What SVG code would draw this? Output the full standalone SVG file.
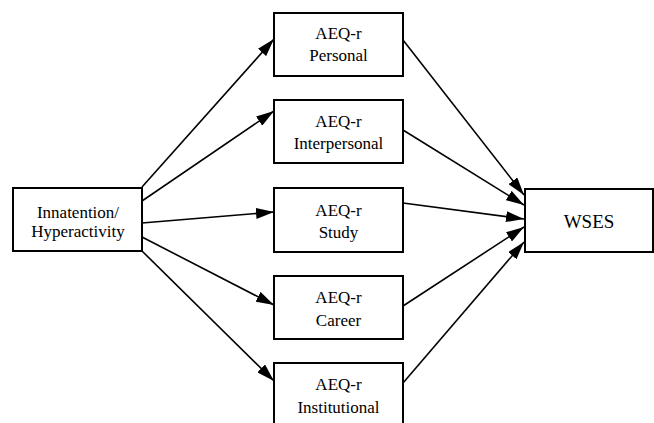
<svg xmlns="http://www.w3.org/2000/svg" width="654" height="423" viewBox="0 0 654 423">
<style>
.box{fill:#fff;stroke:#000;stroke-width:2}
.t{font-family:"Liberation Serif","Times New Roman",serif;font-size:17px;fill:#000;text-anchor:middle}
.big{font-size:19px}
.c{stroke:#000;stroke-width:1.6;fill:none;marker-end:url(#ah)}
</style>
<defs>
<marker id="ah" markerUnits="userSpaceOnUse" markerWidth="18" markerHeight="11" refX="18" refY="5.5" orient="auto">
<path d="M0,0 L18,5.5 L0,11 z" fill="#000"/>
</marker>
</defs>
<rect width="654" height="423" fill="#fff"/>
<g id="connectors">
<line class="c" x1="142" y1="187" x2="274" y2="39"/>
<line class="c" x1="142" y1="201" x2="274" y2="111"/>
<line class="c" x1="142" y1="223" x2="274" y2="212"/>
<line class="c" x1="142" y1="237" x2="274" y2="305"/>
<line class="c" x1="142" y1="251" x2="274" y2="381"/>
<line class="c" x1="403" y1="40" x2="524" y2="195"/>
<line class="c" x1="403" y1="130" x2="524" y2="205"/>
<line class="c" x1="403" y1="203" x2="524" y2="219"/>
<line class="c" x1="403" y1="306" x2="524" y2="227"/>
<line class="c" x1="403" y1="383" x2="524" y2="242"/>
</g>
<g id="inattention">
<rect class="box" x="13" y="188" width="129" height="63"/>
<text class="t" x="78" y="218">Innatention/</text>
<text class="t" x="78" y="237">Hyperactivity</text>
</g>
<g id="personal">
<rect class="box" x="274" y="13" width="129" height="63"/>
<text class="t" x="338.5" y="39">AEQ-r</text>
<text class="t" x="338.5" y="61">Personal</text>
</g>
<g id="interpersonal">
<rect class="box" x="274" y="100" width="129" height="63"/>
<text class="t" x="338.5" y="127">AEQ-r</text>
<text class="t" x="338.5" y="149">Interpersonal</text>
</g>
<g id="study">
<rect class="box" x="274" y="188" width="129" height="64"/>
<text class="t" x="338.5" y="216">AEQ-r</text>
<text class="t" x="338.5" y="238">Study</text>
</g>
<g id="career">
<rect class="box" x="274" y="276" width="129" height="63"/>
<text class="t" x="338.5" y="303">AEQ-r</text>
<text class="t" x="338.5" y="326">Career</text>
</g>
<g id="institutional">
<rect class="box" x="274" y="363" width="129" height="64"/>
<text class="t" x="338.5" y="390">AEQ-r</text>
<text class="t" x="338.5" y="413">Institutional</text>
</g>
<g id="wses">
<rect class="box" x="525" y="189" width="128" height="63"/>
<text class="t big" x="589" y="228">WSES</text>
</g>
</svg>
